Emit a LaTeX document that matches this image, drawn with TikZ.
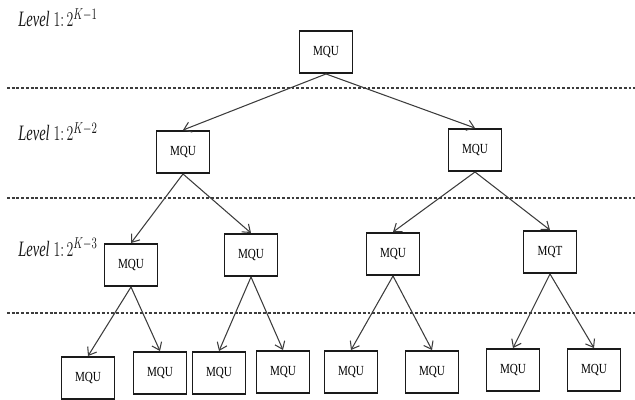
\documentclass[tikz,border=0pt]{standalone}
\usepackage{fontspec}
\setmainfont{Liberation Serif}
\usepackage{graphicx}
\usetikzlibrary{arrows.meta}
\definecolor{kuro}{HTML}{1A1A1A}
\definecolor{hai}{HTML}{3C3C3C}

\tikzset{
    mqubox/.style={draw=kuro, line width=1.1pt, fill=white, minimum width=1.06cm, minimum height=0.84cm, inner sep=0pt},
    levellabel/.style={anchor=base west, inner sep=0pt, text=kuro},
    levelline/.style={draw=hai, line width=0.6pt, dash pattern=on 1.6pt off 1.1pt},
    treearrow/.style={draw=hai, line width=0.6pt, -{Straight Barb[length=4pt,width=6pt]}}
}
\newcommand{\mqutext}[1]{\scalebox{0.8}[1]{\fontsize{7.9}{9}\selectfont #1}}
\newcommand{\levtext}[1]{\scalebox{0.66}[1]{\fontsize{12.5}{14}\selectfont $\mathit{Level}\;1{:}\,2^{K-#1}$}}

\begin{document}
\begin{tikzpicture}
    \useasboundingbox (0, 0) rectangle (12.7, -8);

    \foreach \y in {-1.76, -3.96, -6.26}
        \draw[levelline] (0.14, \y) -- (12.7, \y);

    \foreach \y / \k in {-0.54/1, -2.82/2, -5.12/3}
        \node[levellabel] at (0.36, \y) {\levtext{\k}};

    \node[mqubox] (root) at (6.52, -1.04) {\mqutext{MQU}};

    \node[mqubox] (a) at (3.66, -3.04) {\mqutext{MQU}};
    \node[mqubox] (b) at (9.50, -3.00) {\mqutext{MQU}};

    \node[mqubox] (c) at (2.62, -5.30) {\mqutext{MQU}};
    \node[mqubox] (d) at (5.02, -5.10) {\mqutext{MQU}};
    \node[mqubox] (e) at (7.86, -5.08) {\mqutext{MQU}};
    \node[mqubox] (f) at (11.00, -5.04) {\mqutext{MQT}};

    \foreach \n / \x / \y in {g1/1.76/-7.56, g2/3.20/-7.46, g3/4.38/-7.46, g4/5.66/-7.44,
                              g5/7.02/-7.44, g6/8.64/-7.44, g7/10.26/-7.40, g8/11.88/-7.40}
        \node[mqubox] (\n) at (\x, \y) {\mqutext{MQU}};

    \foreach \p / \q in {root/a, root/b, a/c, a/d, b/e, b/f,
                         c/g1, c/g2, d/g3, d/g4, e/g5, e/g6, f/g7, f/g8}
        \draw[treearrow] (\p.south) -- (\q.north);

\end{tikzpicture}
\end{document}
